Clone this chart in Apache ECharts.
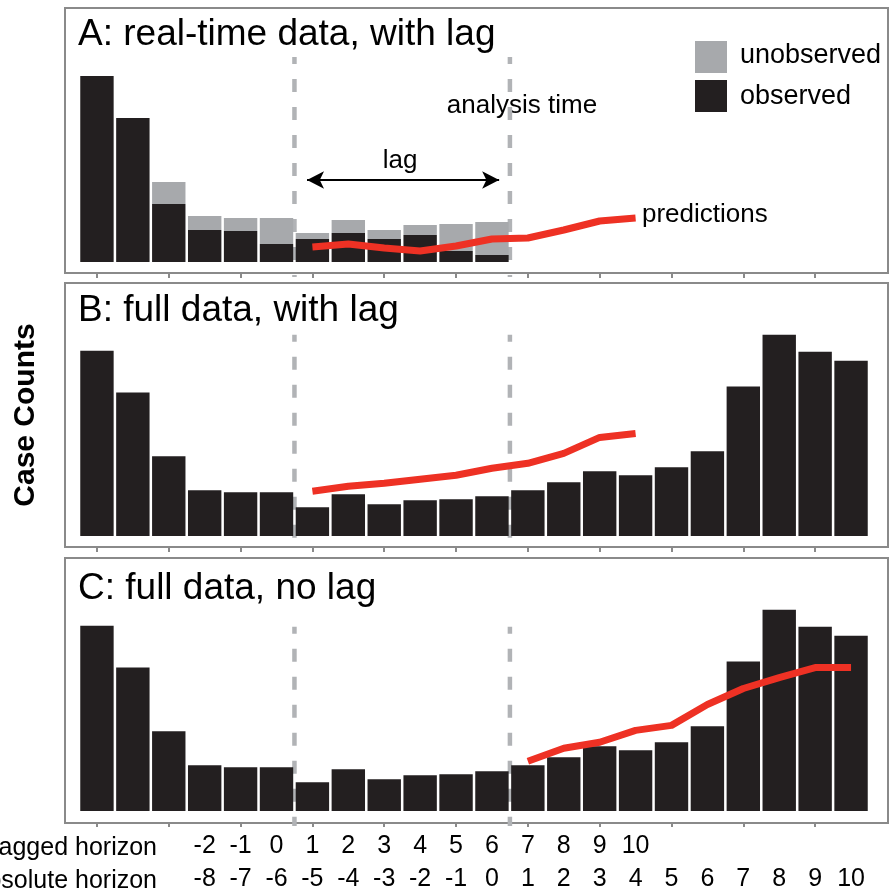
<!DOCTYPE html>
<html><head><meta charset="utf-8">
<script src="https://cdn.jsdelivr.net/npm/echarts@6/dist/echarts.min.js"></script>
<style>html,body{margin:0;padding:0;background:#fff}#c{width:889px;height:892px}</style>
</head><body><div id="c"></div>
<script>
// ---------- data ----------
const categories = ['-11','-10','-9','-8','-7','-6','-5','-4','-3','-2','-1','0','1','2','3','4','5','6','7','8','9','10'];
const laggedLabels = ['','','','-2','-1','0','1','2','3','4','5','6','7','8','9','10','','','','','',''];
const absoluteLabels = ['','','','-8','-7','-6','-5','-4','-3','-2','-1','0','1','2','3','4','5','6','7','8','9','10'];
// full (eventually reported) case counts, panels B and C
const fullCounts = [186,144,80,46,44,44,29,42,32,36,37,40,46,54,65,61,69,85,150,202,185,176];
// panel A: real-time data
const observedA   = [186,144,58,32,31,18,23,29,23,27,11,7,'-','-','-','-','-','-','-','-','-','-'];
const unobservedA = [0,0,22,14,13,26,6,13,9,10,27,33,'-','-','-','-','-','-','-','-','-','-'];
// predictions
const predA = ['-','-','-','-','-','-',15,18,14,11,16,23,24,32,41,44,'-','-','-','-','-','-'];
const predB = ['-','-','-','-','-','-',45,50,53,57,61,68,73,83,99,103,'-','-','-','-','-','-'];
const predC = ['-','-','-','-','-','-','-','-','-','-','-','-',50,63,69,81,86,107,123,134,144,144];
// lag window (category indices)
const lagStartIndex = 6;     // first lagged week
const analysisIndex = 12;    // analysis time boundary
const dashTop = [205, 202, 185];

// ---------- style ----------
const FONT = "'Liberation Sans', Arial, Helvetica, sans-serif";
const BLACK = '#231f20', GRAY = '#a7a9ac', RED = '#ee3124', BOX = '#8a8a8a', DASH = '#b1b3b6';
const gridDefs = [
  {top: 8, height: 265},
  {top: 283, height: 264},
  {top: 558, height: 265}
];
const GL = 79, GW = 790;

const grids = gridDefs.map(g => ({left: GL, width: GW, top: g.top, height: g.height, show: false}));
const xAxes = [], yAxes = [], series = [];
gridDefs.forEach((g, gi) => {
  xAxes.push({type: 'category', gridIndex: gi, data: categories, position: 'bottom',
    axisLine: {show: false, onZero: false},
    axisTick: {show: true, alignWithLabel: true, interval: 1, length: 5, lineStyle: {color: BOX, width: 2}},
    axisLabel: {show: false}, splitLine: {show: false}});
  xAxes.push({type: 'value', gridIndex: gi, min: -0.5, max: categories.length - 0.5, show: false});
  yAxes.push({type: 'value', gridIndex: gi, min: -11, max: 254, show: false});
});
const labelAxisBase = {type: 'category', gridIndex: 2, position: 'bottom',
  axisLine: {show: false, onZero: false}, axisTick: {show: false}, splitLine: {show: false}};
xAxes.push(Object.assign({}, labelAxisBase, {data: laggedLabels, offset: 0,
  axisLabel: {interval: 0, fontSize: 25, color: '#000', fontFamily: FONT, margin: 12}}));
xAxes.push(Object.assign({}, labelAxisBase, {data: absoluteLabels, offset: 33,
  axisLabel: {interval: 0, fontSize: 25, color: '#000', fontFamily: FONT, margin: 12}}));

const dashXs = [lagStartIndex - 0.5, analysisIndex - 0.5];
gridDefs.forEach((g, gi) => {
  dashXs.forEach(x => {
    series.push({type: 'line', xAxisIndex: gi * 2 + 1, yAxisIndex: gi, data: [[x, dashTop[gi]], [x, -15]],
      symbol: 'none', clip: false, silent: true, z: 1,
      lineStyle: {color: DASH, width: 4.5, type: [13, 15], dashOffset: 6}});
  });
});

const barCommon = {type: 'bar', barCategoryGap: '7%', z: 2, silent: true};
series.push(Object.assign({}, barCommon, {name: 'observed', xAxisIndex: 0, yAxisIndex: 0, stack: 'a', data: observedA, itemStyle: {color: BLACK}}));
series.push(Object.assign({}, barCommon, {name: 'unobserved', xAxisIndex: 0, yAxisIndex: 0, stack: 'a', data: unobservedA, itemStyle: {color: GRAY}}));
series.push(Object.assign({}, barCommon, {name: 'observed', xAxisIndex: 2, yAxisIndex: 1, data: fullCounts, itemStyle: {color: BLACK}}));
series.push(Object.assign({}, barCommon, {name: 'observed', xAxisIndex: 4, yAxisIndex: 2, data: fullCounts, itemStyle: {color: BLACK}}));

const lineCommon = {type: 'line', symbol: 'none', z: 3, silent: true, lineStyle: {color: RED, width: 7, cap: 'butt', join: 'round'}};
series.push(Object.assign({}, lineCommon, {name: 'predictions', xAxisIndex: 0, yAxisIndex: 0, data: predA}));
series.push(Object.assign({}, lineCommon, {name: 'predictions', xAxisIndex: 2, yAxisIndex: 1, data: predB}));
series.push(Object.assign({}, lineCommon, {name: 'predictions', xAxisIndex: 4, yAxisIndex: 2, data: predC}));

series.push({type: 'line', xAxisIndex: 1, yAxisIndex: 0, data: [], silent: true,
  markLine: {silent: true, symbol: ['arrow', 'arrow'], symbolSize: [13, 17], animation: false,
    label: {show: false}, lineStyle: {color: '#000', width: 2, type: 'solid'},
    data: [[{coord: [dashXs[0] + 0.35, 82]}, {coord: [dashXs[1] - 0.3, 82]}]]}});

const txt = (text, x, y, size, align, extra) => Object.assign({type: 'text', x: x, y: y, silent: true,
  style: {text: text, fontSize: size, fontFamily: FONT, fill: '#000', align: align || 'left', verticalAlign: 'middle'}}, extra || {});

const graphic = [
  {type: 'rect', shape: {x: 65, y: 8, width: 823, height: 265}, style: {fill: 'none', stroke: BOX, lineWidth: 2}, silent: true, z: -1},
  {type: 'rect', shape: {x: 65, y: 283, width: 823, height: 264}, style: {fill: 'none', stroke: BOX, lineWidth: 2}, silent: true, z: -1},
  {type: 'rect', shape: {x: 65, y: 558, width: 823, height: 265}, style: {fill: 'none', stroke: BOX, lineWidth: 2}, silent: true, z: -1},
  txt('A: real-time data, with lag', 78, 35, 37),
  txt('B: full data, with lag', 78, 311, 37),
  txt('C: full data, no lag', 78, 589, 37),
  {type: 'rect', shape: {x: 695, y: 41, width: 32, height: 32}, style: {fill: GRAY}, silent: true},
  {type: 'rect', shape: {x: 695, y: 80, width: 32, height: 32}, style: {fill: BLACK}, silent: true},
  txt('unobserved', 740, 56, 27),
  txt('observed', 740, 97, 27),
  txt('analysis time', 522, 106, 26, 'center'),
  txt('lag', 400, 161, 26, 'center'),
  txt('predictions', 642, 215, 26),
  txt('lagged horizon', 157, 848, 25, 'right'),
  txt('absolute horizon', 157, 881, 25, 'right'),
  {type: 'text', x: 26, y: 415, rotation: Math.PI / 2, silent: true,
    style: {text: 'Case Counts', font: 'bold 30px ' + FONT, fill: '#000', align: 'center', verticalAlign: 'middle'}}
];

const chart = echarts.init(document.getElementById('c'), null, {renderer: 'canvas'});
chart.setOption({
  animation: false,
  backgroundColor: '#fff',
  grid: grids,
  xAxis: xAxes,
  yAxis: yAxes,
  series: series,
  graphic: graphic
});
</script>
</body></html>
